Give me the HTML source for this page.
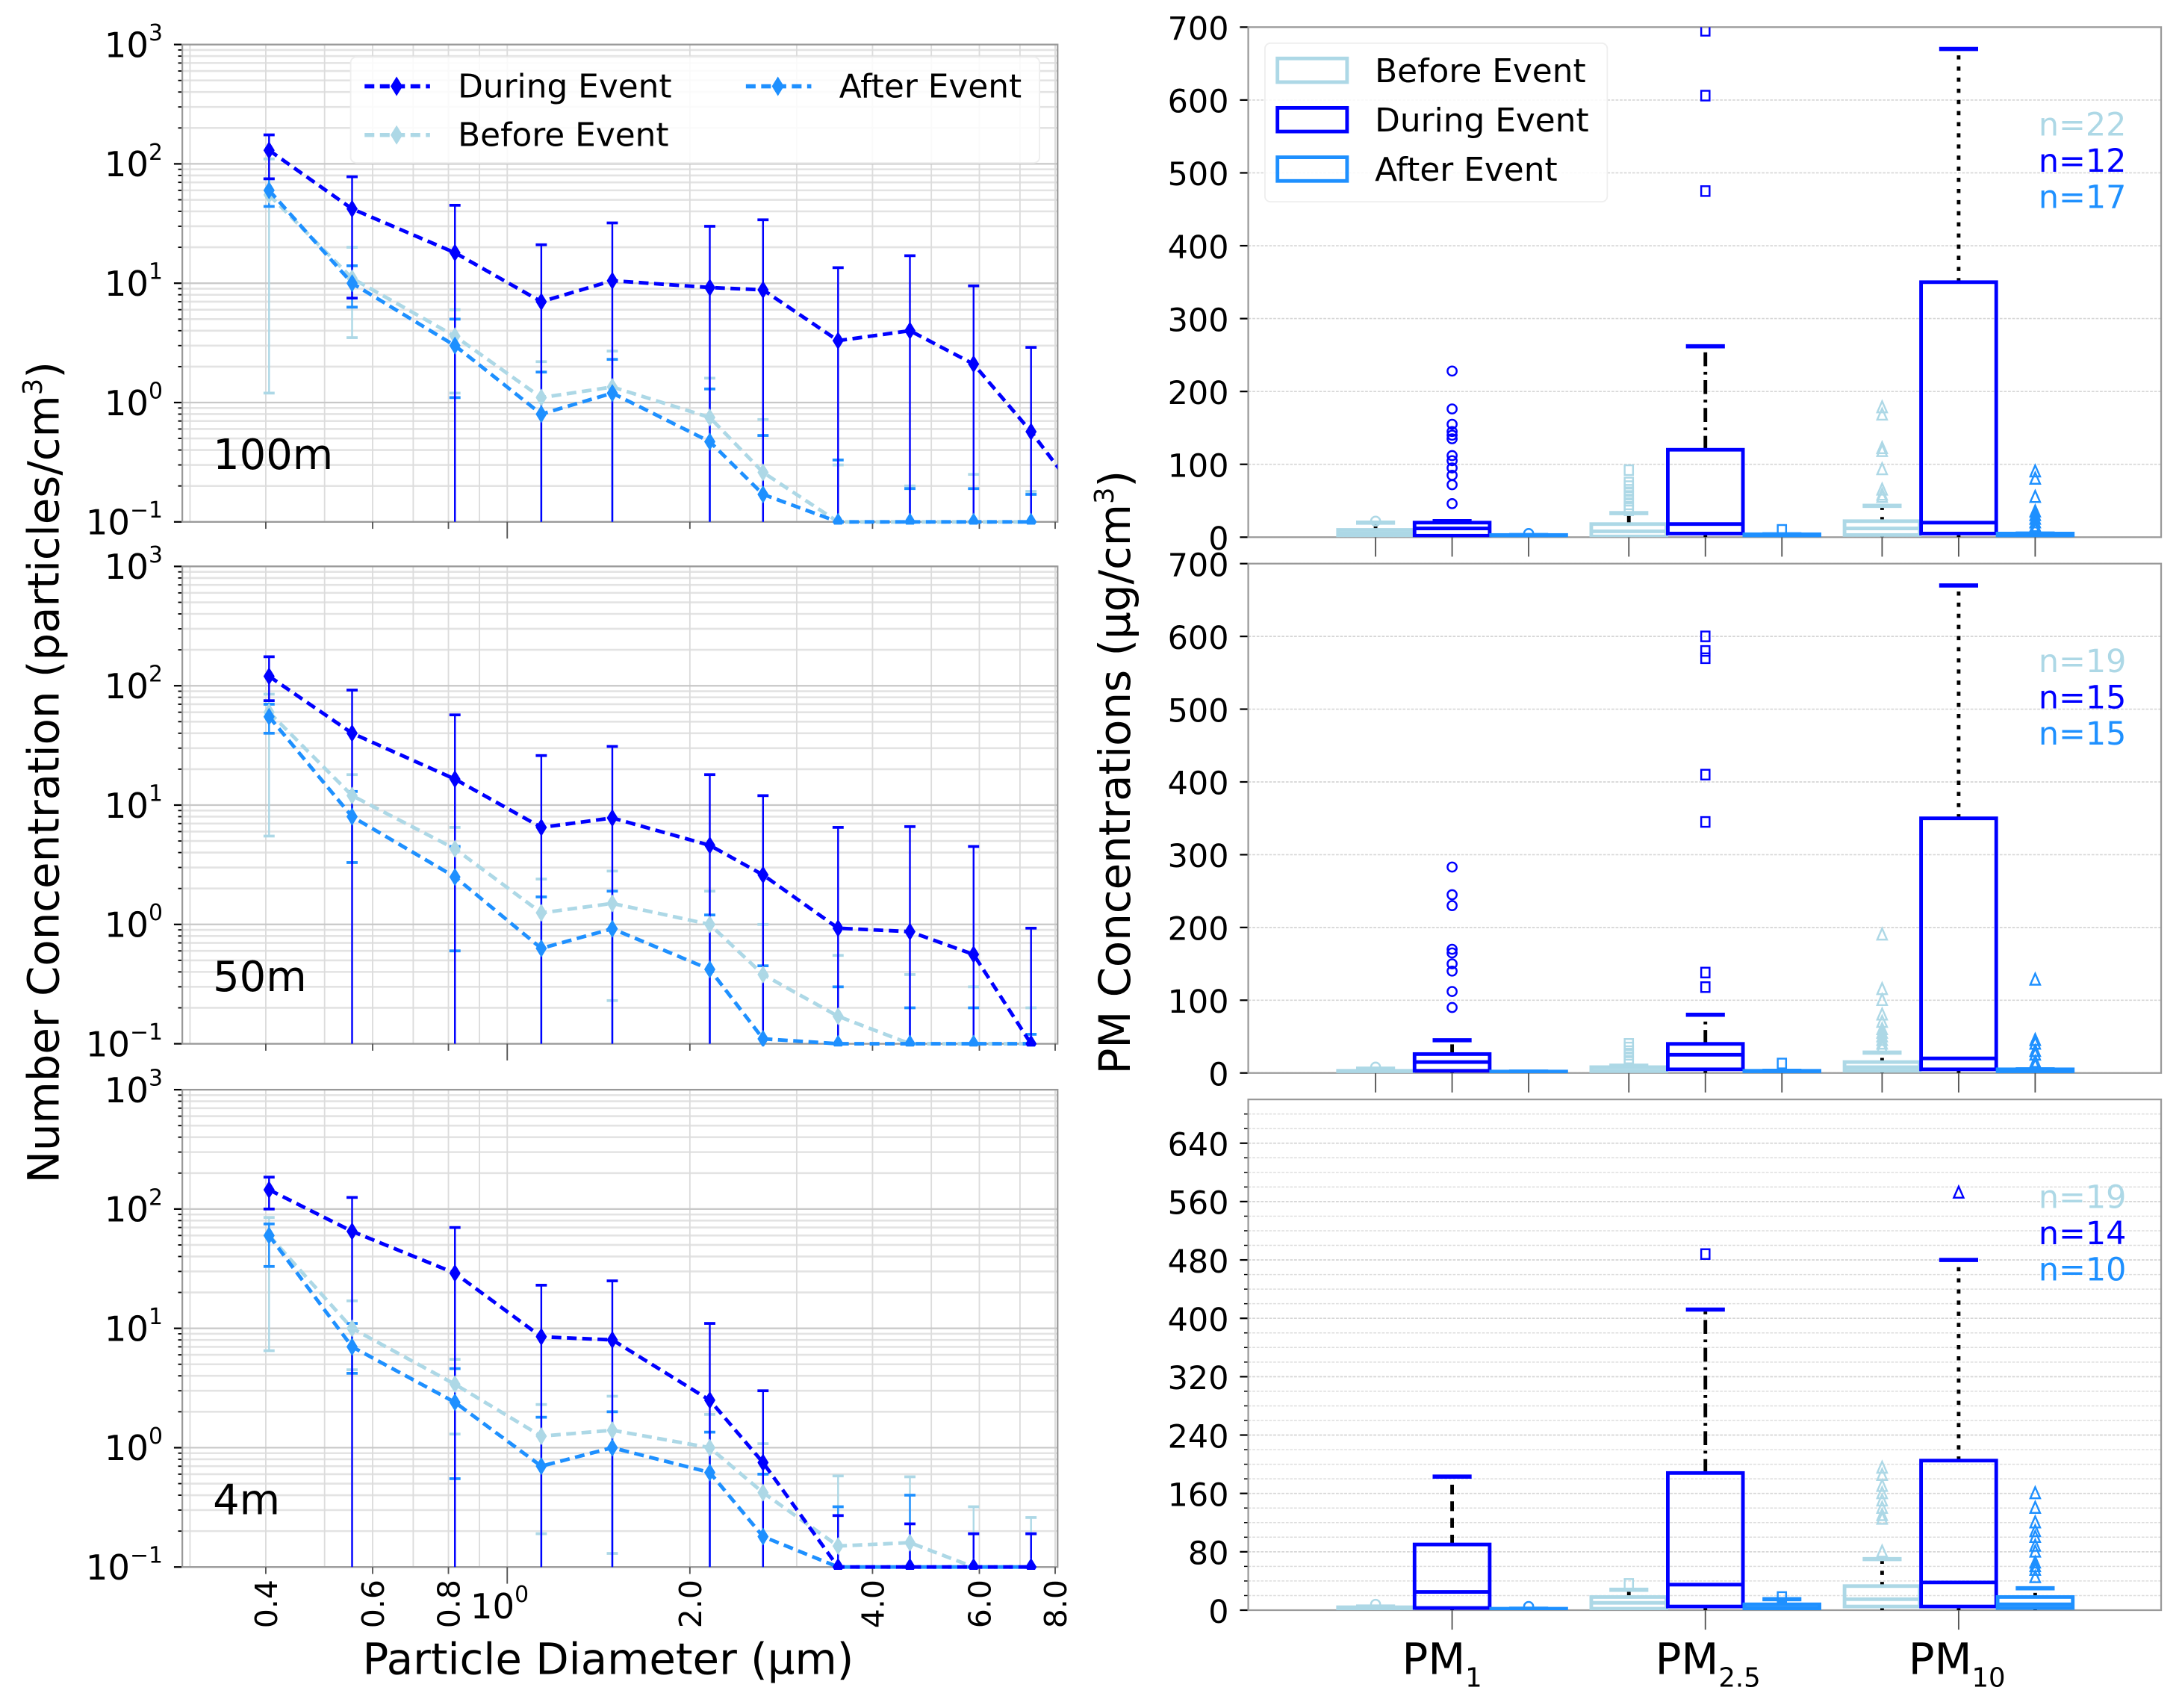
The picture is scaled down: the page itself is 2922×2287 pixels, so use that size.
<!DOCTYPE html>
<html><head><meta charset="utf-8"><style>
html,body{margin:0;padding:0;background:#fff}
svg{display:block;font-family:"DejaVu Sans","Liberation Sans",sans-serif}
</style></head><body>
<svg id="fig" xmlns="http://www.w3.org/2000/svg" width="2922" height="2287" viewBox="0 0 1568 1227.3" preserveAspectRatio="none">
<rect width="1568" height="1228" fill="#fff"/>
<text transform="translate(42,555) rotate(-90)" text-anchor="middle" font-size="31" fill="#000">Number Concentration (particles/cm<tspan font-size="19" dy="-12">3</tspan><tspan dy="12">)</tspan></text>
<text x="437" y="1203" text-anchor="middle" font-size="31" fill="#000">Particle Diameter (µm)</text>
<text transform="translate(812,555) rotate(-90)" text-anchor="middle" font-size="31" fill="#000">PM Concentrations (µg/cm<tspan font-size="19" dy="-12">3</tspan><tspan dy="12">)</tspan></text>
<g id="left"></g><g id="right"></g>
</svg>
<script>
// ---------- Left chart data ----------
const diameters = [0.405, 0.555, 0.82, 1.138, 1.49, 2.157, 2.64, 3.51, 4.61, 5.87, 7.3];
const panelNames = ["100m", "50m", "4m"];
const during100 = [130, 42, 18, 7, 10.5, 9.2, 8.8, 3.3, 4.0, 2.1, 0.57];
const duringUp100 = [175, 78, 45, 21, 32, 30, 34, 13.5, 17, 9.5, 2.9];
const duringLo100 = [75, 7.5, 0.01, 0.01, 0.01, 0.01, 0.01, 0.01, 0.01, 0.01, 0.01];
const before100 = [55, 11, 3.6, 1.1, 1.35, 0.75, 0.26, 0.1, 0.1, 0.1, 0.1];
const beforeUp100 = [110, 20, 6, 2.2, 2.7, 1.6, 0.72, 0.3, 0.2, 0.25, 0.18];
const beforeLo100 = [1.2, 3.5, 1.2, 0.01, 0.01, 0.01, 0.01, 0.01, 0.01, 0.01, 0.01];
const after100 = [60, 10, 3.0, 0.8, 1.2, 0.47, 0.17, 0.1, 0.1, 0.1, 0.1];
const afterUp100 = [75, 14, 5, 1.8, 2.3, 1.3, 0.53, 0.33, 0.19, 0.19, 0.17];
const afterLo100 = [44, 6.3, 1.1, 0.01, 0.01, 0.01, 0.01, 0.01, 0.01, 0.01, 0.01];
const during50 = [120, 40, 16.5, 6.5, 7.8, 4.6, 2.6, 0.93, 0.87, 0.56, 0.1];
const duringUp50 = [175, 92, 57, 26, 31, 18, 12, 6.5, 6.6, 4.5, 0.93];
const duringLo50 = [75, 0.01, 0.01, 0.01, 0.01, 0.01, 0.01, 0.01, 0.01, 0.01, 0.01];
const before50 = [60, 12, 4.3, 1.25, 1.5, 1.0, 0.38, 0.17, 0.1, 0.1, 0.1];
const beforeUp50 = [85, 18, 6.5, 2.4, 2.8, 1.9, 1.0, 0.55, 0.38, 0.3, 0.2];
const beforeLo50 = [5.5, 3.3, 0.6, 0.01, 0.23, 0.01, 0.01, 0.01, 0.01, 0.01, 0.01];
const after50 = [55, 8, 2.5, 0.63, 0.92, 0.42, 0.11, 0.1, 0.1, 0.1, 0.1];
const afterUp50 = [70, 13, 4.5, 1.7, 1.9, 1.2, 0.45, 0.3, 0.2, 0.2, 0.12];
const afterLo50 = [40, 3.3, 0.6, 0.01, 0.01, 0.01, 0.01, 0.01, 0.01, 0.01, 0.01];
const during4 = [145, 65, 29, 8.5, 8.0, 2.5, 0.75, 0.1, 0.1, 0.1, 0.1];
const duringUp4 = [185, 125, 70, 23, 25, 11, 3.0, 0.27, 0.23, 0.19, 0.19];
const duringLo4 = [100, 0.01, 0.01, 0.01, 0.01, 0.01, 0.01, 0.01, 0.01, 0.01, 0.01];
const before4 = [60, 10, 3.4, 1.25, 1.4, 1.0, 0.42, 0.15, 0.16, 0.1, 0.1];
const beforeUp4 = [85, 17, 5.5, 2.3, 2.7, 1.9, 1.08, 0.58, 0.57, 0.32, 0.26];
const beforeLo4 = [6.5, 4.5, 1.3, 0.19, 0.13, 0.01, 0.01, 0.01, 0.01, 0.01, 0.01];
const after4 = [60, 7, 2.4, 0.7, 1.0, 0.62, 0.18, 0.1, 0.1, 0.1, 0.1];
const afterUp4 = [75, 11, 4.6, 1.8, 2.0, 1.35, 0.6, 0.32, 0.4, 0.19, 0.19];
const afterLo4 = [33, 4.2, 0.55, 0.01, 0.01, 0.01, 0.01, 0.01, 0.01, 0.01, 0.01];
const xTickVals = [0.4, 0.6, 0.8, 2.0, 4.0, 6.0, 8.0];
const xTickLabels = ["0.4", "0.6", "0.8", "2.0", "4.0", "6.0", "8.0"];
const yExps = [-1, 0, 1, 2, 3];

// ---------- Right chart data ----------
const pmCategories = ["PM1", "PM2.5", "PM10"];
const nBefore = [22, 19, 19];
const nDuring = [12, 15, 14];
const nAfter = [17, 15, 10];
const p1Before = [[0,1,5,10,20],[0,1,8,18,33],[0,3,12,22,43]];
const p1During = [[0,2,12,20,22],[0,5,18,120,262],[0,5,20,350,670]];
const p1After = [[0,0,1,3,3],[0,0,1,4,4],[0,0,2,5,5]];
const p1OutBefore = [[22],[92,75,70,65,60,55,50,45,40,37],[178,168,122,118,93,65,58,55]];
const p1OutDuring = [[228,176,155,145,140,135,112,105,95,85,72,46],[695,606,475],[]];
const p1OutAfter = [[5],[10],[90,80,55,35,30,25,20,15,10]];
const p2Before = [[0,0,2,3,6],[0,0,3,8,10],[0,3,8,15,28]];
const p2During = [[0,3,15,26,45],[0,5,25,40,80],[0,5,20,350,670]];
const p2After = [[0,0,1,2,2],[0,0,1,3,3],[0,0,2,5,5]];
const p2OutBefore = [[8],[40,35,30,25,20,15],[190,115,100,80,70,60,55,50,45,40,35]];
const p2OutDuring = [[283,245,230,170,165,150,140,112,90],[600,580,570,410,345,138,118],[]];
const p2OutAfter = [[],[13],[128,45,40,30,25,15,10]];
const p3Before = [[0,1,3,4,5],[0,2,10,18,28],[0,5,15,33,70]];
const p3During = [[0,3,25,90,183],[0,5,35,188,412],[0,5,38,205,480]];
const p3After = [[0,0,1,2,2],[0,1,3,8,15],[0,3,8,18,30]];
const p3OutBefore = [[8],[36],[195,185,170,160,150,140,130,125,80]];
const p3OutDuring = [[],[488],[572]];
const p3OutAfter = [[5],[18],[160,140,120,108,100,88,80,65,60,55,45]];

const NS = "http://www.w3.org/2000/svg";
const C_DUR = "#0000ff", C_BEF = "#add8e6", C_AFT = "#1e90ff";
function el(tag, attrs, parent) { const e = document.createElementNS(NS, tag); for (const k in attrs) e.setAttribute(k, attrs[k]); parent.appendChild(e); return e; }

// ---------- Left panels ----------
const L = document.getElementById('left');
const LX0 = 131, LX1 = 760;
const panelTops = [32, 407, 783];
const PH = 343;
function xs(d) { return 191 + 436 * Math.log10(d / 0.4); }
function makeY(top) { return v => top + PH - (Math.log10(Math.max(v, 0.1)) + 1) / 4 * PH; }
function diamond(g, x, y, c, r) { return el('path', { d: `M${x},${y - r}L${x + r * 0.62},${y}L${x},${y + r}L${x - r * 0.62},${y}Z`, fill: c }, g); }

const seriesSets = [
  [[before100, beforeUp100, beforeLo100], [after100, afterUp100, afterLo100], [during100, duringUp100, duringLo100]],
  [[before50, beforeUp50, beforeLo50], [after50, afterUp50, afterLo50], [during50, duringUp50, duringLo50]],
  [[before4, beforeUp4, beforeLo4], [after4, afterUp4, afterLo4], [during4, duringUp4, duringLo4]]
];
const seriesColors = [C_BEF, C_AFT, C_DUR];
const seriesKeys = ['before', 'after', 'during'];

panelTops.forEach((top, pi) => {
  const g = el('g', {}, L);
  
  
  const ys = makeY(top);
  for (let e = -1; e < 3; e++) for (let m = 2; m <= 9; m++) {
    const y = ys(m * Math.pow(10, e));
    el('line', { x1: LX0, x2: LX1, y1: y, y2: y, stroke: '#e3e3e3', 'stroke-width': 1.4 }, g);
    el('line', { x1: LX0 - 3, x2: LX0, y1: y, y2: y, stroke: '#000', 'stroke-width': 1 }, g);
  }
  const vx = [0.3, 0.4, 0.5, 0.6, 0.7, 0.8, 0.9, 1, 2, 3, 4, 5, 6, 7, 8];
  vx.forEach(v => { const x = xs(v); if (x > LX0 && x < LX1) el('line', { x1: x, x2: x, y1: top, y2: top + PH, stroke: '#dcdcdc', 'stroke-width': 1 }, g); });
  yExps.forEach(e => {
    const y = ys(Math.pow(10, e));
    el('line', { x1: LX0, x2: LX1, y1: y, y2: y, stroke: '#c8c8c8', 'stroke-width': 1.2 }, g);
    el('line', { x1: LX0 - 6, x2: LX0, y1: y, y2: y, stroke: '#000', 'stroke-width': 1.2 }, g);
    const t = el('text', { x: 117, y: y + 9, 'text-anchor': 'end', 'font-size': 25 }, g);
    
    
    t.innerHTML = '10<tspan font-size="16" dy="-12">' + (e < 0 ? '−1' : e) + '</tspan>';
  });
  el('rect', { x: LX0, y: top, width: LX1 - LX0, height: PH, fill: 'none', stroke: '#999', 'stroke-width': 1.2 }, g);
  xTickVals.forEach(v => el('line', { x1: xs(v), x2: xs(v), y1: top + PH, y2: top + PH + 5, stroke: '#555', 'stroke-width': 1 }, g));
  el('line', { x1: xs(1), x2: xs(1), y1: top + PH, y2: top + PH + 12, stroke: '#555', 'stroke-width': 1 }, g);
  const clip = el('clipPath', { id: 'lc' + pi }, g);
  el('rect', { x: LX0, y: top - 2, width: LX1 - LX0, height: PH + 4 }, clip);
  const sg = el('g', { 'clip-path': `url(#lc${pi})` }, g);
  seriesSets[pi].forEach((s, si) => {
    const [vals, up, lo] = s, c = seriesColors[si];
    const eg = el('g', {}, sg);
    
    
    vals.forEach((v, i) => {
      const x = xs(diameters[i]);
      const yu = ys(up[i]), yl = lo[i] < 0.1 ? top + PH : ys(lo[i]);
      el('line', { x1: x, x2: x, y1: yu, y2: yl, stroke: c, 'stroke-width': 1.3 }, eg);
      el('line', { x1: x - 4, x2: x + 4, y1: yu, y2: yu, stroke: c, 'stroke-width': 2 }, eg);
      if (lo[i] >= 0.1) el('line', { x1: x - 4, x2: x + 4, y1: yl, y2: yl, stroke: c, 'stroke-width': 2 }, eg);
    });
  });
  seriesSets[pi].forEach((s, si) => {
    const vals = s[0], c = seriesColors[si];
    let pts = vals.map((v, i) => [xs(diameters[i]), ys(v)]);
    if (si === 2 && pi === 0) pts.push([LX1 + 3, ys(0.26)]);
    const p = el('polyline', { points: pts.map(q => q.join(',')).join(' '), fill: 'none', stroke: c, 'stroke-width': 2.6, 'stroke-dasharray': '7,4' }, sg);
    
    
    vals.forEach((v, i) => {
      const d = diamond(sg, xs(diameters[i]), ys(v), c, 6.5);
      
      
    });
  });
  const lab = el('text', { x: 153, y: top + PH - 38, 'font-size': 30 }, g);
  
  
  lab.textContent = panelNames[pi];
});
xTickVals.forEach((v, i) => {
  const t = el('text', { transform: `translate(${xs(v) + 8},${1170}) rotate(-90)`, 'font-size': 22 }, L);
  
  
  t.textContent = xTickLabels[i];
});
{
  const t = el('text', { x: 338, y: 1163, 'font-size': 25 }, L);
  
  
  t.innerHTML = '10<tspan font-size="16" dy="-12">0</tspan>';
}
{
  const g = el('g', {}, L);
  
  
  el('rect', { x: 252, y: 41, width: 495, height: 76, rx: 4, fill: '#fff', 'fill-opacity': 0.85, stroke: '#eee' }, g);
  const items = [[262, 62, C_DUR, 'During Event'], [536, 62, C_AFT, 'After Event'], [262, 97, C_BEF, 'Before Event']];
  items.forEach(it => {
    el('line', { x1: it[0], x2: it[0] + 47, y1: it[1], y2: it[1], stroke: it[2], 'stroke-width': 3, 'stroke-dasharray': '7,4' }, g);
    diamond(g, it[0] + 23, it[1], it[2], 7);
    const t = el('text', { x: it[0] + 67, y: it[1] + 8, 'font-size': 23.5 }, g);
    
    
    t.textContent = it[3];
  });
}

// ---------- Right panels ----------
const R = document.getElementById('right');
const RX0 = 897, RX1 = 1553;
const rTops = [19.5, 405, 790];
const RPH = [366.5, 366, 367];
const groupCenters = [1043.5, 1225.5, 1407.5];
const offs = [-55, 0, 55];
const boxW = 54;
const statsSets = [[p1Before, p1During, p1After], [p2Before, p2During, p2After], [p3Before, p3During, p3After]];
const outSets = [[p1OutBefore, p1OutDuring, p1OutAfter], [p2OutBefore, p2OutDuring, p2OutAfter], [p3OutBefore, p3OutDuring, p3OutAfter]];
const nSets = [nBefore, nDuring, nAfter];
const boxColors = [C_BEF, C_DUR, C_AFT];
const whiskerDash = ['7,5', '10,4,2,4', '3,5'];

rTops.forEach((top, pi) => {
  const g = el('g', {}, R);
  
  
  const bot = top + RPH[pi];
  const ys = v => bot - v / 700 * RPH[pi];
  const ticks = pi < 2 ? [0, 100, 200, 300, 400, 500, 600, 700] : [0, 80, 160, 240, 320, 400, 480, 560, 640];
  if (pi === 2) for (let v = 20; v < 700; v += 20) {
    el('line', { x1: RX0, x2: RX1, y1: ys(v), y2: ys(v), stroke: '#ddd', 'stroke-width': 0.8, 'stroke-dasharray': '2,1' }, g);
    el('line', { x1: RX0 - 3, x2: RX0, y1: ys(v), y2: ys(v), stroke: '#000', 'stroke-width': 0.8 }, g);
  }
  ticks.forEach(v => {
    el('line', { x1: RX0, x2: RX1, y1: ys(v), y2: ys(v), stroke: '#d6d6d6', 'stroke-width': 0.9, 'stroke-dasharray': '2,1' }, g);
    el('line', { x1: RX0 - 6, x2: RX0, y1: ys(v), y2: ys(v), stroke: '#000', 'stroke-width': 1.2 }, g);
    const t = el('text', { x: 883, y: ys(v) + 9, 'text-anchor': 'end', 'font-size': 23 }, g);
    
    
    t.textContent = v;
  });
  el('rect', { x: RX0, y: top, width: RX1 - RX0, height: RPH[pi], fill: 'none', stroke: '#999', 'stroke-width': 1.2 }, g);
  groupCenters.forEach(cx => offs.forEach(o => el('line', { x1: cx + o, x2: cx + o, y1: bot, y2: bot + (pi === 2 && o !== 0 ? 0 : 14), stroke: '#555', 'stroke-width': 1 }, g)));
  const clip = el('clipPath', { id: 'rc' + pi }, g);
  el('rect', { x: RX0, y: top, width: RX1 - RX0, height: RPH[pi] }, clip);
  const bg = el('g', { 'clip-path': `url(#rc${pi})` }, g);
  [0, 1, 2].forEach(si => {
    groupCenters.forEach((cx0, ci) => {
      const cx = cx0 + offs[si], c = boxColors[si];
      const [lw, q1, md, q3, hw] = statsSets[pi][si][ci];
      const bx = el('g', {}, bg);
      
      
      el('line', { x1: cx, x2: cx, y1: ys(q3), y2: ys(hw), stroke: '#000', 'stroke-width': 2.6, 'stroke-dasharray': whiskerDash[ci] }, bx);
      el('line', { x1: cx, x2: cx, y1: ys(q1), y2: ys(lw), stroke: '#000', 'stroke-width': 2.6, 'stroke-dasharray': whiskerDash[ci] }, bx);
      el('line', { x1: cx - 14, x2: cx + 14, y1: ys(hw), y2: ys(hw), stroke: c, 'stroke-width': 3 }, bx);
      el('rect', { x: cx - boxW / 2, y: ys(q3), width: boxW, height: Math.max(ys(q1) - ys(q3), 2), fill: 'none', stroke: c, 'stroke-width': 2.6 }, bx);
      el('line', { x1: cx - boxW / 2, x2: cx + boxW / 2, y1: ys(md), y2: ys(md), stroke: c, 'stroke-width': 2.6 }, bx);
      outSets[pi][si][ci].forEach(v => {
        const y = ys(v);
        let m;
        if (ci === 0) m = el('circle', { cx: cx, cy: y, r: 3.3, fill: 'none', stroke: c, 'stroke-width': 1.3 }, bx);
        else if (ci === 1) m = el('rect', { x: cx - 3, y: y - 3.5, width: 6, height: 7, fill: 'none', stroke: c, 'stroke-width': 1.3 }, bx);
        else m = el('path', { d: `M${cx},${y - 4.5}L${cx + 3.5},${y + 3.5}L${cx - 3.5},${y + 3.5}Z`, fill: 'none', stroke: c, 'stroke-width': 1.3 }, bx);
        
        
      });
    });
  });
  [0, 1, 2].forEach(si => {
    const t = el('text', { x: 1528, y: top + 78 + si * 26, 'text-anchor': 'end', 'font-size': 23, fill: boxColors[si] }, g);
    
    
    t.textContent = 'n=' + nSets[si][pi];
  });
});
const catHtml = ['PM<tspan font-size="19" dy="9">1</tspan>', 'PM<tspan font-size="19" dy="9">2.5</tspan>', 'PM<tspan font-size="19" dy="9">10</tspan>'];
groupCenters.forEach((cx, i) => {
  const t = el('text', { x: cx - 36, y: 1203, 'font-size': 31 }, R);
  
  
  t.innerHTML = catHtml[i];
});
{
  const g = el('g', {}, R);
  
  
  el('rect', { x: 909, y: 31, width: 246, height: 114, rx: 4, fill: '#fff', 'fill-opacity': 0.85, stroke: '#eee' }, g);
  [['Before Event', C_BEF], ['During Event', C_DUR], ['After Event', C_AFT]].forEach((it, i) => {
    const y = 42 + i * 35.5;
    el('rect', { x: 918, y: y, width: 50, height: 17, fill: 'none', stroke: it[1], 'stroke-width': 2.6 }, g);
    const t = el('text', { x: 988, y: y + 17, 'font-size': 23.5 }, g);
    
    
    t.textContent = it[0];
  });
}
</script>
</body></html>
